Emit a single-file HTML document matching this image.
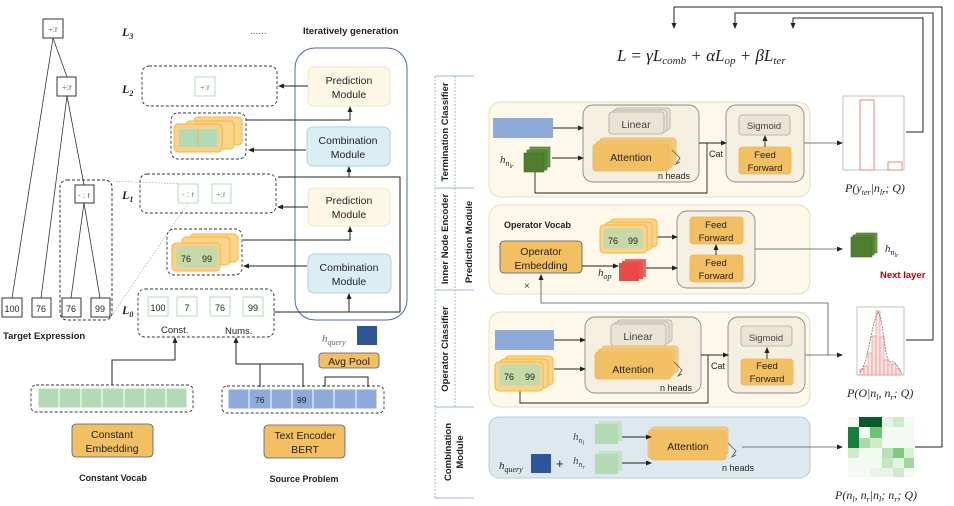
<!DOCTYPE html>
<html><head><meta charset="utf-8"><style>
html,body{margin:0;padding:0;background:#fff;}
svg{display:block;font-family:"Liberation Sans",sans-serif;}
.s{font-family:"Liberation Serif",serif;font-style:italic;}
.b{font-weight:bold;}
</style></head><body>
<svg width="954" height="506" viewBox="0 0 954 506" xmlns="http://www.w3.org/2000/svg">
<defs>
<marker id="a" markerWidth="6" markerHeight="6" refX="5" refY="3" orient="auto" markerUnits="userSpaceOnUse"><path d="M0,0.5 L6,3 L0,5.5z" fill="#222"/></marker>
</defs>
<g font-size="10" fill="#222">
<!-- ===== LEFT: tree ===== -->
<g stroke="#333" stroke-width="0.8" fill="none">
<line x1="53" y1="38" x2="12" y2="298"/><line x1="53" y1="38" x2="67" y2="77"/>
<line x1="67" y1="96" x2="41" y2="298"/><line x1="67" y1="96" x2="84" y2="185"/>
<line x1="84" y1="203" x2="71" y2="298"/><line x1="84" y1="203" x2="100" y2="298"/>
</g>
<g stroke="#333" stroke-width="1" fill="#fff">
<rect x="43" y="19" width="20" height="19"/><rect x="57" y="77" width="19" height="19"/><rect x="75" y="185" width="19" height="18"/>
<rect x="2" y="298" width="20" height="19"/><rect x="32" y="298" width="19" height="19"/><rect x="62" y="298" width="19" height="19"/><rect x="91" y="298" width="19" height="19"/>
</g>
<rect x="60" y="180" width="52" height="140" rx="7" fill="none" stroke="#333" stroke-dasharray="3,2"/>
<g font-size="8" text-anchor="middle" fill="#555"><text x="53" y="32">÷:r</text><text x="67" y="90">÷:r</text><text x="84" y="198">- : r</text></g>
<g font-size="9" text-anchor="middle"><text x="12" y="312">100</text><text x="41" y="312">76</text><text x="71" y="312">76</text><text x="100" y="312">99</text></g>
<text x="3" y="339" class="b" font-size="9.5">Target Expression</text>
<g stroke="#999" stroke-width="0.6" stroke-dasharray="1.5,1.5"><line x1="110" y1="181" x2="185" y2="184"/><line x1="188" y1="203" x2="112" y2="315"/></g>
<!-- L labels -->
<g class="s b" font-size="12"><text x="122" y="36">L<tspan font-size="8" dy="3">3</tspan></text><text x="122" y="93">L<tspan font-size="8" dy="3">2</tspan></text><text x="122" y="199">L<tspan font-size="8" dy="3">1</tspan></text><text x="122" y="314">L<tspan font-size="8" dy="3">0</tspan></text></g>
<text x="250" y="34" fill="#555">......</text>
<text x="303" y="34" class="b" font-size="9.5">Iteratively generation</text>
<!-- blue container -->
<rect x="295" y="48" width="112" height="272" rx="20" fill="none" stroke="#4a68a8" stroke-width="1"/>
<g stroke-width="1">
<rect x="308" y="67" width="82" height="39" rx="6" fill="#fdf8e6" stroke="#f0e6c4"/>
<rect x="308" y="188" width="82" height="38" rx="6" fill="#fdf8e6" stroke="#f0e6c4"/>
<rect x="307" y="127" width="83" height="39" rx="6" fill="#dbeef3" stroke="#a8d4e0"/>
<rect x="308" y="254" width="83" height="39" rx="6" fill="#dbeef3" stroke="#a8d4e0"/>
</g>
<g font-size="10.5" text-anchor="middle"><text x="349" y="84">Prediction</text><text x="349" y="98">Module</text>
<text x="349" y="204">Prediction</text><text x="349" y="218">Module</text>
<text x="348" y="144">Combination</text><text x="348" y="158">Module</text>
<text x="349" y="271">Combination</text><text x="349" y="285">Module</text></g>
<!-- dashed level boxes -->
<g fill="none" stroke="#333" stroke-dasharray="3,2" stroke-width="0.9">
<rect x="142" y="66" width="135" height="40" rx="7"/>
<rect x="171" y="113" width="75" height="46" rx="7"/>
<rect x="140" y="174" width="136" height="39" rx="7"/>
<rect x="167" y="229" width="75" height="46" rx="7"/>
<rect x="138" y="289" width="136" height="48" rx="7"/>
<rect x="31" y="385" width="162" height="27" rx="5"/>
<rect x="222" y="386" width="162" height="27" rx="5"/>
</g>
<g fill="#fff" stroke="#b5dcb9" stroke-width="1">
<rect x="195" y="77" width="20" height="19"/><rect x="178" y="184" width="20" height="19"/><rect x="212" y="184" width="19" height="19"/>
<rect x="148" y="297" width="20" height="19"/><rect x="177" y="297" width="20" height="19"/><rect x="210" y="297" width="20" height="19"/><rect x="243" y="297" width="20" height="19"/>
</g>
<g font-size="8" text-anchor="middle" fill="#777"><text x="205" y="90">÷:r</text><text x="188" y="197">- : r</text><text x="221" y="197">÷:r</text></g>
<g font-size="9" text-anchor="middle"><text x="158" y="311">100</text><text x="187" y="311">7</text><text x="220" y="311">76</text><text x="253" y="311">99</text></g>
<text x="161" y="333" font-size="9.5">Const.</text><text x="225" y="334" font-size="9.5">Nums.</text>
<!-- stacks left -->
<g stroke="#f5b73a" stroke-width="1">
<rect x="194" y="117" width="48" height="28" rx="4" fill="#fbd38a"/>
<rect x="186" y="121" width="48" height="28" rx="4" fill="#fbd38a"/>
<rect x="174" y="124" width="48" height="28" rx="4" fill="#fad08a"/>
<rect x="190" y="234" width="48" height="28" rx="4" fill="#fbd38a"/>
<rect x="182" y="237" width="48" height="28" rx="4" fill="#fbd38a"/>
<rect x="172" y="243" width="48" height="28" rx="4" fill="#fad08a"/>
</g>
<rect x="179" y="129" width="38" height="18" fill="#b2dbb5"/>
<line x1="198" y1="129" x2="198" y2="147" stroke="#f5b73a"/>
<rect x="177" y="247" width="40" height="20" fill="#c8d9a8" stroke="#b5dcb9"/>
<line x1="197" y1="247" x2="197" y2="267" stroke="#b5dcb9"/>
<text x="181" y="262" font-size="9">76</text><text x="202" y="262" font-size="9">99</text>
<!-- arrows left -->
<g stroke="#222" stroke-width="1" fill="none">
<path d="M274,312 H400 V177 H278"/>
<path d="M349,312 V294" marker-end="url(#a)"/><path d="M349,177 V167" marker-end="url(#a)"/>
<path d="M308,86 H279" marker-end="url(#a)"/><path d="M308,207 H278" marker-end="url(#a)"/>
<path d="M306,150 H249" marker-end="url(#a)"/><path d="M307,266 H244" marker-end="url(#a)"/>
<path d="M246,120 H350 V107" marker-end="url(#a)"/><path d="M243,240 H350 V227" marker-end="url(#a)"/>
<path d="M112,385 V360 H175 V338" marker-end="url(#a)"/>
<path d="M260,387 V364 H303 V387"/><path d="M236,364 V338" marker-end="url(#a)"/><path d="M236,364 H260"/>
<path d="M325,387 V377 H368 V387"/>
</g>
<text x="322" y="342" class="s" font-size="11" fill="#666">h<tspan font-size="8" dy="3">query</tspan></text>
<rect x="357" y="326" width="20" height="19" fill="#2e5597"/>
<rect x="319" y="353" width="60" height="15" rx="3" fill="#f2c063" stroke="#4a5a80" stroke-width="0.8"/>
<text x="349" y="365" font-size="10.5" text-anchor="middle">Avg Pool</text>
<!-- embedding rows -->
<g fill="#b2dbb5" stroke="#fff" stroke-width="1">
<rect x="38" y="388" width="21" height="20"/><rect x="59" y="388" width="22" height="20"/><rect x="81" y="388" width="21" height="20"/><rect x="102" y="388" width="22" height="20"/><rect x="124" y="388" width="21" height="20"/><rect x="145" y="388" width="21" height="20"/><rect x="166" y="388" width="21" height="20"/>
</g>
<g fill="#8eaadb" stroke="#fff" stroke-width="1">
<rect x="228" y="389" width="21" height="20"/><rect x="249" y="389" width="22" height="20"/><rect x="271" y="389" width="21" height="20"/><rect x="292" y="389" width="21" height="20"/><rect x="313" y="389" width="21" height="20"/><rect x="334" y="389" width="22" height="20"/><rect x="356" y="389" width="21" height="20"/>
</g>
<text x="255" y="403" font-size="8.5">76</text><text x="297" y="403" font-size="8.5">99</text>
<rect x="72" y="424" width="81" height="33" rx="4" fill="#f2c063" stroke="#4a5a80" stroke-width="0.8"/>
<rect x="264" y="425" width="81" height="33" rx="4" fill="#f2c063" stroke="#4a5a80" stroke-width="0.8"/>
<g font-size="10.5" text-anchor="middle"><text x="112" y="438">Constant</text><text x="112" y="452">Embedding</text><text x="305" y="439">Text Encoder</text><text x="305" y="453">BERT</text></g>
<text x="113" y="481" class="b" font-size="9" text-anchor="middle">Constant Vocab</text>
<text x="304" y="482" class="b" font-size="9" text-anchor="middle">Source Problem</text>

<!-- ===== RIGHT ===== -->
<text x="617" y="61" class="s" font-size="17">L = γL<tspan font-size="11" dy="3">comb</tspan><tspan dy="-3"> + αL</tspan><tspan font-size="11" dy="3">op</tspan><tspan dy="-3"> +  βL</tspan><tspan font-size="11" dy="3">ter</tspan></text>
<g stroke="#222" stroke-width="1" fill="none">
<path d="M915,447 H942 V7 H674 V28" marker-end="url(#a)"/>
<path d="M906,340 H933 V13 H735 V28" marker-end="url(#a)"/>
<path d="M906,132 H923 V18 H793 V28" marker-end="url(#a)"/>
</g>
<!-- side labels -->
<g stroke="#9fb6e0" stroke-width="1">
<line x1="435" y1="76" x2="435" y2="498" stroke-dasharray="2,1.5"/><line x1="455" y1="76" x2="455" y2="407" stroke-dasharray="2,1.5"/>
<line x1="435" y1="76" x2="474" y2="76"/><line x1="435" y1="188" x2="474" y2="188"/><line x1="435" y1="290" x2="474" y2="290"/><line x1="435" y1="407" x2="474" y2="407"/><line x1="435" y1="498" x2="474" y2="498"/>
</g>
<g class="b" font-size="9.5" text-anchor="middle">
<text transform="translate(448,132) rotate(-90)">Termination Classifier</text>
<text transform="translate(448,239) rotate(-90)">Inner Node Encoder</text>
<text transform="translate(448,349) rotate(-90)">Operator Classifier</text>
<text transform="translate(451,452) rotate(-90)">Combination</text>
<text transform="translate(463,452) rotate(-90)">Module</text>
<text transform="translate(472,242) rotate(-90)">Prediction Module</text>
</g>
<!-- panels -->
<rect x="489" y="102" width="321" height="95" rx="12" fill="#fdf8ea" stroke="#e6dcc2"/>
<rect x="489" y="205" width="321" height="89" rx="12" fill="#fdf8ea" stroke="#e6dcc2"/>
<rect x="489" y="312" width="321" height="95" rx="12" fill="#fdf8ea" stroke="#e6dcc2"/>
<rect x="489" y="417" width="321" height="61" rx="10" fill="#dde9ef" stroke="#b8ccd8"/>
<!-- termination -->
<g stroke="#888" stroke-width="0.9">
<rect x="583" y="105" width="116" height="77" rx="10" fill="#f5efdf"/>
<rect x="726" y="105" width="78" height="77" rx="10" fill="#f5efdf"/>
<rect x="585" y="317" width="116" height="76" rx="10" fill="#f5efdf"/>
<rect x="728" y="317" width="77" height="76" rx="10" fill="#f5efdf"/>
<rect x="677" y="211" width="78" height="77" rx="10" fill="#f5efdf"/>
</g>
<g stroke="#aaa" fill="#e9e4d4" stroke-width="0.8">
<rect x="615" y="108" width="55" height="22" rx="3"/><rect x="612" y="110" width="55" height="22" rx="3"/><rect x="609" y="112" width="55" height="22" rx="3"/>
<rect x="617" y="320" width="55" height="22" rx="3"/><rect x="614" y="322" width="55" height="22" rx="3"/><rect x="611" y="324" width="55" height="22" rx="3"/>
<rect x="739" y="115" width="51" height="20" rx="3"/><rect x="741" y="326" width="51" height="20" rx="3"/>
</g>
<g stroke="#e8b860" fill="#f2c063" stroke-width="0.8">
<rect x="600" y="138" width="76" height="27" rx="3" fill="#f5ca7a"/><rect x="596" y="141" width="76" height="27" rx="3" fill="#f4c670"/><rect x="593" y="144" width="76" height="27" rx="3"/>
<rect x="602" y="346" width="76" height="27" rx="3" fill="#f5ca7a"/><rect x="598" y="349" width="76" height="27" rx="3" fill="#f4c670"/><rect x="595" y="352" width="76" height="27" rx="3"/>
<rect x="651" y="427" width="77" height="28" rx="3" fill="#f5ca7a"/><rect x="648" y="430" width="77" height="28" rx="3" fill="#f4c670"/><rect x="651" y="432" width="75" height="28" rx="3"/>
<rect x="739" y="147" width="52" height="27" rx="3"/><rect x="741" y="359" width="52" height="26" rx="3"/>
<rect x="690" y="217" width="53" height="27" rx="3"/><rect x="690" y="255" width="53" height="27" rx="3"/>
<rect x="500" y="241" width="82" height="32" rx="4" stroke="#4a5a80"/>
</g>
<g font-size="10.5" text-anchor="middle">
<text x="636" y="128" fill="#444">Linear</text><text x="631" y="161">Attention</text>
<text x="638" y="340" fill="#444">Linear</text><text x="633" y="373">Attention</text>
<text x="688" y="450">Attention</text>
<text x="764" y="129" font-size="9.5" fill="#444">Sigmoid</text><text x="766" y="341" font-size="9.5" fill="#444">Sigmoid</text>
<text x="765" y="158" font-size="9.5">Feed</text><text x="765" y="171" font-size="9.5">Forward</text>
<text x="767" y="369" font-size="9.5">Feed</text><text x="767" y="382" font-size="9.5">Forward</text>
<text x="716" y="228" font-size="9.5">Feed</text><text x="716" y="241" font-size="9.5">Forward</text>
<text x="716" y="266" font-size="9.5">Feed</text><text x="716" y="279" font-size="9.5">Forward</text>
<text x="541" y="255">Operator</text><text x="541" y="269">Embedding</text>
</g>
<g font-size="9"><text x="658" y="179">n heads</text><text x="660" y="391">n heads</text><text x="722" y="471">n heads</text><text x="709" y="157">Cat</text><text x="711" y="369">Cat</text></g>
<g stroke="#555" fill="none" stroke-width="0.8"><path d="M672,150 l8,8 l-4,6 l4,-2"/><path d="M674,362 l8,8 l-4,6 l4,-2"/><path d="M728,443 l8,8 l-4,6 l4,-2"/></g>
<rect x="493" y="118" width="60" height="20" fill="#8eaadb"/>
<rect x="495" y="330" width="59" height="20" fill="#8eaadb"/>
<text x="500" y="163" class="s" font-size="11">h<tspan font-size="8" dy="3">n</tspan><tspan font-size="6" dy="2">lr</tspan></text>
<g fill="#5d8a3a" stroke="#3f6e25" stroke-width="0.6"><rect x="530" y="147" width="20" height="20" fill="#6b9a4a"/><rect x="527" y="150" width="20" height="20"/><rect x="524" y="153" width="20" height="19" fill="#4f7e30"/>
<rect x="856" y="233" width="21" height="20" fill="#6b9a4a"/><rect x="853" y="235" width="21" height="20"/><rect x="851" y="237" width="21" height="20" fill="#4f7e30"/></g>
<!-- termination arrows -->
<g stroke="#222" stroke-width="0.9" fill="none">
<path d="M553,128 H583" marker-end="url(#a)"/><path d="M552,158 H583" marker-end="url(#a)"/>
<path d="M699,143 H726" marker-end="url(#a)"/><path d="M535,172 V193 H707 V143"/>
<path d="M765,147 V136" marker-end="url(#a)"/>
<path d="M701,355 H728" marker-end="url(#a)"/><path d="M520,390 V403 H708 V355"/>
<path d="M767,359 V348" marker-end="url(#a)"/>
<path d="M554,340 H585" marker-end="url(#a)"/><path d="M554,369 H585" marker-end="url(#a)"/>
<path d="M657,237 H677" marker-end="url(#a)"/><path d="M646,268 H677" marker-end="url(#a)"/><path d="M582,266 H618" marker-end="url(#a)"/>
<path d="M716,255 V245" marker-end="url(#a)"/>
<path d="M622,437 H651" marker-end="url(#a)"/><path d="M622,463 H651" marker-end="url(#a)"/>
</g>
<g stroke="#555" stroke-width="0.8" fill="none">
<path d="M804,143 H842" marker-end="url(#a)"/><path d="M755,249 H842" marker-end="url(#a)"/>
<path d="M805,355 H842" marker-end="url(#a)"/><path d="M742,447 H842" marker-end="url(#a)"/>
<path d="M828,355 V303 H541 V275" marker-end="url(#a)"/>
</g>
<!-- inner node -->
<text x="504" y="228" class="b" font-size="9">Operator Vocab</text>
<text x="524" y="289" font-size="10" fill="#444">×</text>
<text x="598" y="276" class="s" font-size="11">h<tspan font-size="8" dy="3">op</tspan></text>
<g fill="#e85450"><rect x="625" y="259" width="21" height="18" fill="#e86a66"/><rect x="622" y="261" width="21" height="18"/><rect x="619" y="263" width="20" height="18" fill="#ea4a46"/></g>
<g stroke="#f5b73a" fill="#fbd38a"><rect x="610" y="219" width="47" height="28" rx="4"/><rect x="605" y="222" width="47" height="28" rx="4"/><rect x="600" y="225" width="47" height="28" rx="4"/></g>
<rect x="604" y="229" width="38" height="19" fill="#c8d9a8" stroke="#b5dcb9"/><line x1="624" y1="229" x2="624" y2="248" stroke="#b5dcb9"/>
<text x="608" y="244" font-size="9">76</text><text x="628" y="244" font-size="9">99</text>
<text x="885" y="252" class="s" font-size="11">h<tspan font-size="8" dy="3">n</tspan><tspan font-size="6" dy="2">lr</tspan></text>
<text x="880" y="278" class="b" font-size="9.5" fill="#c00000">Next layer</text>
<!-- operator stack -->
<g stroke="#f5b73a" fill="#fbd38a"><rect x="505" y="356" width="48" height="29" rx="4"/><rect x="500" y="359" width="48" height="29" rx="4"/><rect x="495" y="362" width="48" height="29" rx="4"/></g>
<rect x="500" y="365" width="40" height="20" fill="#c8d9a8" stroke="#b5dcb9"/><line x1="520" y1="365" x2="520" y2="385" stroke="#b5dcb9"/>
<text x="504" y="380" font-size="9">76</text><text x="525" y="380" font-size="9">99</text>
<!-- combination -->
<text x="573" y="440" class="s" font-size="11" fill="#444">h<tspan font-size="8" dy="3">n</tspan><tspan font-size="6" dy="2">l</tspan></text>
<text x="573" y="464" class="s" font-size="11" fill="#444">h<tspan font-size="8" dy="3">n</tspan><tspan font-size="6" dy="2">r</tspan></text>
<text x="499" y="469" class="s" font-size="11">h<tspan font-size="8" dy="3">query</tspan></text>
<text x="556" y="468" font-size="13">+</text>
<rect x="531" y="454" width="20" height="19" fill="#2e5597"/>
<g fill="#b2dbb5"><rect x="599" y="421" width="23" height="20" fill="#c2e3c4"/><rect x="595" y="424" width="23" height="20"/><rect x="599" y="451" width="23" height="20" fill="#c2e3c4"/><rect x="595" y="454" width="23" height="20"/></g>
<!-- charts -->
<rect x="843" y="96" width="61" height="74" fill="#fff" stroke="#999" stroke-width="0.6"/>
<rect x="860" y="100" width="14" height="70" fill="none" stroke="#f08080"/>
<rect x="888" y="162" width="14" height="8" fill="none" stroke="#f08080"/>
<text x="845" y="192" class="s" font-size="12">P(y<tspan font-size="8" dy="3">ter</tspan><tspan dy="-3">|n</tspan><tspan font-size="8" dy="3">lr</tspan><tspan dy="-3">; Q)</tspan></text>
<rect x="857" y="307" width="47" height="68" fill="#fff" stroke="#999" stroke-width="0.6"/>
<g fill="#fde0e0" stroke="#f08080" stroke-width="0.6">
<rect x="860" y="369" width="4" height="6"/><rect x="864" y="366" width="4" height="9"/><rect x="868" y="353" width="4" height="22"/><rect x="872" y="336" width="4" height="39"/><rect x="876" y="311" width="4" height="64"/><rect x="880" y="337" width="4" height="38"/><rect x="884" y="360" width="4" height="15"/><rect x="888" y="364" width="4" height="11"/><rect x="892" y="364" width="4" height="11"/><rect x="896" y="369" width="4" height="6"/></g>
<path d="M860,372 C868,365 872,320 878,312 C884,320 884,360 890,362 C896,360 898,368 902,374" fill="none" stroke="#666" stroke-dasharray="2,1" stroke-width="0.7"/>
<text x="847" y="397" class="s" font-size="12">P(O|n<tspan font-size="8" dy="3">l</tspan><tspan dy="-3">, n</tspan><tspan font-size="8" dy="3">r</tspan><tspan dy="-3">; Q)</tspan></text>
<g>
<rect x="848" y="417" width="66" height="60" fill="#f3faf2"/>
<rect x="859" y="417" width="23" height="10" fill="#0b5a2a"/><rect x="882" y="417" width="11" height="10" fill="#e3f3e1"/><rect x="893" y="417" width="11" height="10" fill="#cdebc9"/>
<rect x="848" y="427" width="11" height="30" fill="#16803a"/><rect x="870" y="427" width="12" height="11" fill="#6fc274"/><rect x="859" y="438" width="11" height="10" fill="#a8dca4"/><rect x="870" y="438" width="12" height="10" fill="#cdebc9"/>
<rect x="848" y="448" width="11" height="10" fill="#cdebc9"/><rect x="882" y="448" width="11" height="10" fill="#b8e2b4"/><rect x="893" y="448" width="11" height="10" fill="#7ec97e"/><rect x="904" y="448" width="10" height="10" fill="#d8efd4"/>
<rect x="882" y="458" width="11" height="10" fill="#c4e7c0"/><rect x="904" y="458" width="10" height="10" fill="#a0d89c"/><rect x="893" y="458" width="11" height="10" fill="#e3f3e1"/>
<rect x="870" y="468" width="23" height="9" fill="#e8f5e6"/><rect x="893" y="468" width="11" height="9" fill="#cdebc9"/>
</g>
<text x="835" y="499" class="s" font-size="12">P(n<tspan font-size="8" dy="3">l</tspan><tspan dy="-3">, n</tspan><tspan font-size="8" dy="3">r</tspan><tspan dy="-3">|n</tspan><tspan font-size="8" dy="3">l</tspan><tspan dy="-3">; n</tspan><tspan font-size="8" dy="3">r</tspan><tspan dy="-3">; Q)</tspan></text>
</g>
</svg>
</body></html>
